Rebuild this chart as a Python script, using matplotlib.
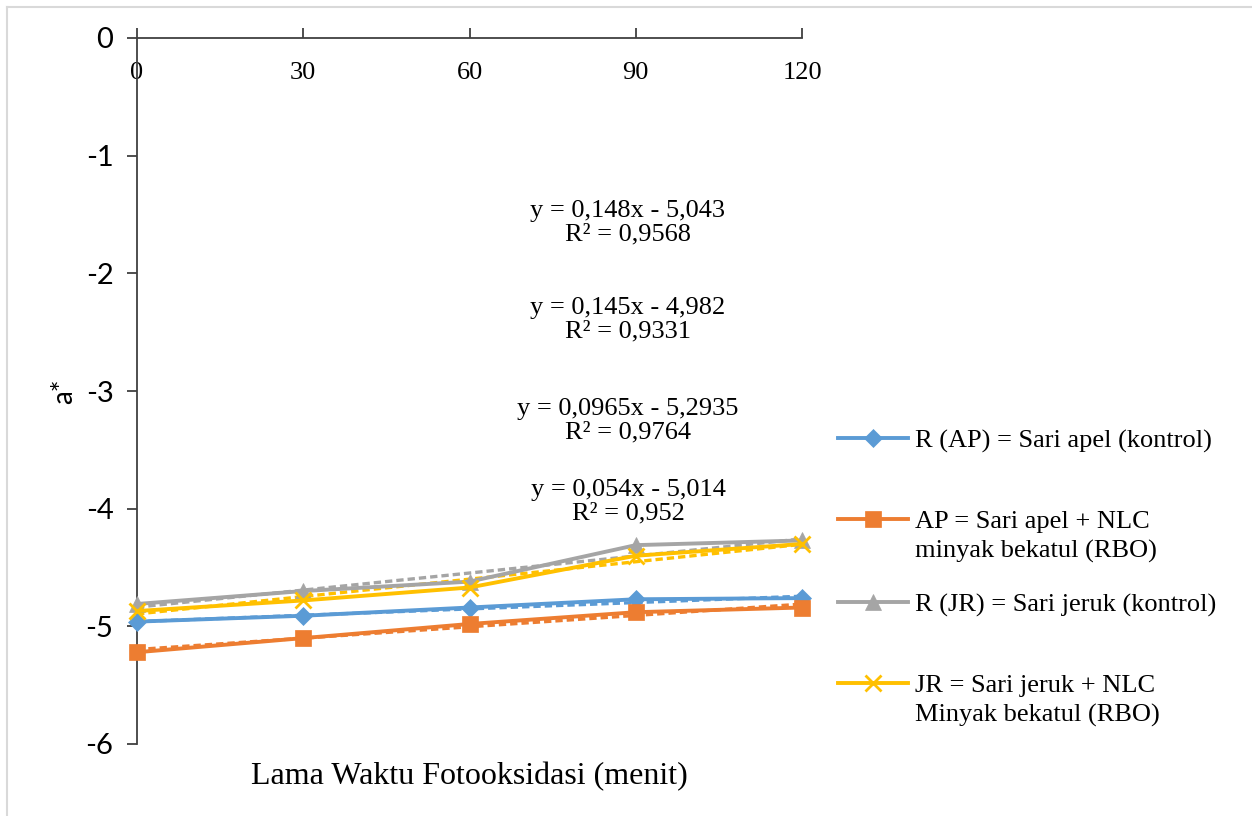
import matplotlib
matplotlib.use("Agg")
import matplotlib.pyplot as plt
from matplotlib.lines import Line2D
import numpy as np

# ---- data ----
waktu = [0, 30, 60, 90, 120]
x_labels = ["0", "30", "60", "90", "120"]
r_ap = [-4.96, -4.91, -4.84, -4.77, -4.76]
ap = [-5.22, -5.10, -4.98, -4.88, -4.84]
r_jr = [-4.81, -4.70, -4.62, -4.31, -4.27]
jr = [-4.87, -4.78, -4.67, -4.40, -4.30]

trend_r_ap = (0.054, -5.014)
trend_ap = (0.0965, -5.2935)
trend_r_jr = (0.145, -4.982)
trend_jr = (0.148, -5.043)

eq_texts = [
    "y = 0,148x - 5,043\nR² = 0,9568",
    "y = 0,145x - 4,982\nR² = 0,9331",
    "y = 0,0965x - 5,2935\nR² = 0,9764",
    "y = 0,054x - 5,014\nR² = 0,952",
]

labels_first = ["R (AP) = Sari apel (kontrol)", "AP = Sari apel + NLC",
                "R (JR) = Sari jeruk (kontrol)", "JR = Sari jeruk + NLC"]
labels_second = [None, "minyak bekatul (RBO)", None, "Minyak bekatul (RBO)"]

c_blue = "#5B9BD5"
c_orange = "#ED7D31"
c_grey = "#A5A5A5"
c_yellow = "#FFC000"

serif = ["Liberation Serif", "DejaVu Serif"]
sans = ["Lato", "DejaVu Sans"]

W, H = 1252, 816
fig = plt.figure(figsize=(W / 100, H / 100), dpi=100)
ax = fig.add_axes([137 / W, 1 - 744 / H, (802 - 137) / W, (744 - 38) / H])

series = [
    (r_ap, trend_r_ap, c_blue, "D", 9, 0),
    (ap, trend_ap, c_orange, "s", 12, 0),
    (r_jr, trend_r_jr, c_grey, "^", 11, 0),
    (jr, trend_jr, c_yellow, "x", 12, 2),
]

idx = np.arange(1, len(waktu) + 1)
handles = []
for vals, (m, b), col, mk, ms, mew in series:
    ln, = ax.plot(waktu, vals, color=col, lw=2.8, marker=mk, markersize=ms,
                  markeredgewidth=mew if mew else 0.5, markeredgecolor=col,
                  zorder=3, clip_on=False)
    handles.append(ln)
    ax.plot(waktu, m * idx + b, color=col, lw=2.4, ls=(0, (2.2, 1.2)), zorder=2)

ax.set_xlim(0, 120)
ax.set_ylim(-6, 0)

ax.spines["bottom"].set_position(("data", 0))
ax.spines["right"].set_visible(False)
ax.spines["top"].set_visible(False)
for s in ["bottom", "left"]:
    ax.spines[s].set_color("#404040")
    ax.spines[s].set_linewidth(1.3)
ax.tick_params(axis="x", direction="out", length=7, width=1.3, color="#404040", pad=10)
ax.tick_params(axis="y", direction="out", length=7, width=1.3, color="#404040", pad=10)

ax.set_xticks(waktu)
ax.set_xticklabels(x_labels, fontfamily=serif, fontsize=19)
ax.set_yticks([0, -1, -2, -3, -4, -5, -6])
ax.set_yticklabels(["0", "-1", "-2", "-3", "-4", "-5", "-6"], fontfamily=sans, fontsize=21)
for tk in ax.xaxis.get_major_ticks():
    tk.tick1line.set_marker(2)  # TICKUP: mark points above the top axis line

ax.set_xlabel("Lama Waktu Fotooksidasi (menit)", fontfamily=serif, fontsize=23)
ax.xaxis.set_label_coords(0.5, -0.025)
ax.set_ylabel("a*", fontfamily=sans, fontsize=20)
ax.yaxis.set_label_coords(-0.09, 0.5)

# trendline equations
eq_y = [223, 320, 421, 502]
for txt, yy in zip(eq_texts, eq_y):
    fig.text(628 / W, 1 - yy / H, txt, ha="center", va="center",
             fontfamily=serif, fontsize=19, linespacing=1.1)

# legend: one entry per legend box
leg_y = [441, 521, 605, 685]
fs_leg = 19
px = fs_leg * 100 / 72
for h, lab1, lab2, yy in zip(handles, labels_first, labels_second, leg_y):
    lg = fig.legend([h], [lab1], loc="center left",
                    bbox_to_anchor=(838 / W, 1 - yy / H), frameon=False,
                    prop={"family": serif, "size": fs_leg},
                    handlelength=70 / px, handletextpad=7 / px,
                    borderpad=0, borderaxespad=0, numpoints=1)
    if lab2:
        fig.text(915 / W, 1 - (yy + 30) / H, lab2, ha="left", va="center",
                 fontfamily=serif, fontsize=fs_leg)

# light outer border (left & top)
fig.add_artist(Line2D([7 / W, 7 / W], [0, 1 - 7 / H], transform=fig.transFigure,
                      color="#d9d9d9", lw=1.5))
fig.add_artist(Line2D([7 / W, 1], [1 - 7 / H, 1 - 7 / H], transform=fig.transFigure,
                      color="#d9d9d9", lw=1.5))

fig.savefig("out.png", dpi=100)
